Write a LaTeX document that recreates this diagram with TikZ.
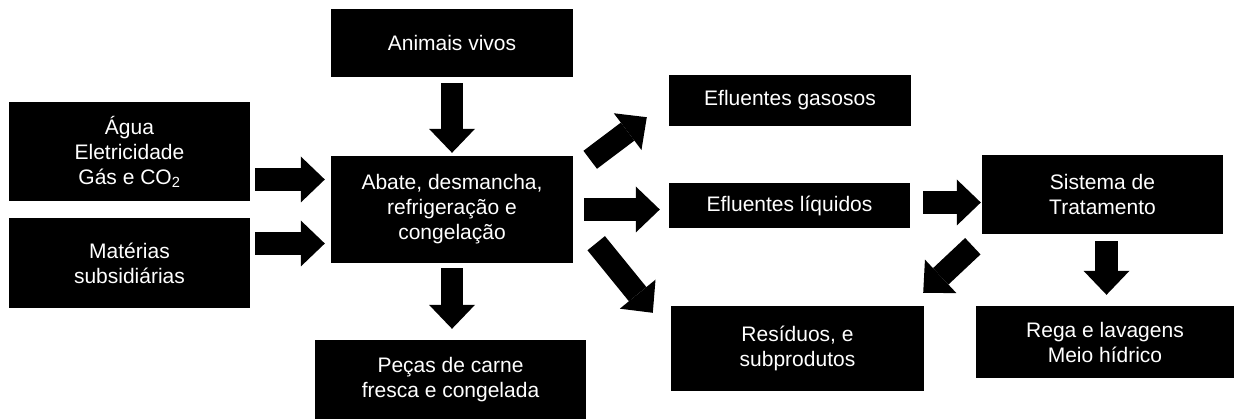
\documentclass[tikz,border=0pt]{standalone}
\usepackage{fontspec}
\setmainfont{Liberation Sans}
\usetikzlibrary{arrows.meta, positioning, calc}
\definecolor{boxBlack}{HTML}{000000}
\definecolor{textWhite}{HTML}{FFFFFF}

\begin{document}
\begin{tikzpicture}[x=1pt, y=-1pt,
    bx/.style 2 args={rectangle, fill=boxBlack, inner sep=0pt,
              minimum width=#1, minimum height=#2,
              font=\fontsize{21}{25}\selectfont\color{textWhite}, align=center},
    ar/.style={draw=boxBlack, line width=22.5pt,
              -{Triangle[length=24pt, width=46pt, line width=0pt]}},
  ]
    \useasboundingbox (0,0) rectangle (1238,419);
    \node[bx={242pt}{68pt}] (anim) at (452, 43) {Animais vivos};
    \node[bx={241pt}{99pt}] (agua) at (129.5, 151.5)
      {Água\\Eletricidade\\Gás e CO\textsubscript{2}};
    \node[bx={241pt}{90pt}] (mat) at (129.5, 263) {Matérias\\subsidiárias};
    \node[bx={242pt}{107pt}] (abate) at (452, 209.5)
      {Abate, desmancha,\\refrigeração e\\congelação};
    \node[bx={271pt}{79pt}] (pecas) at (450.5, 379.5)
      {Peças de carne\\fresca e congelada};
    \node[bx={242pt}{51pt}] (gas) at (790, 100.5) {Efluentes gasosos};
    \node[bx={241pt}{45pt}] (liq) at (789.5, 205.5) {Efluentes líquidos};
    \node[bx={241pt}{79pt}] (sist) at (1102.5, 194.5) {Sistema de\\Tratamento};
    \node[bx={253pt}{85pt}] (res) at (797.5, 348.5) {Resíduos, e\\subprodutos};
    \node[bx={258pt}{72pt}] (rega) at (1105, 342) {Rega e lavagens\\Meio hídrico};

    \draw[ar, shorten <=6pt, shorten >=3pt] (anim.south) -- (abate.north);
    \draw[ar, shorten <=5pt, shorten >=6pt]
      ([yshift=-28pt]agua.east) -- ([yshift=-28pt]agua.east -| abate.west);
    \draw[ar, shorten <=5pt, shorten >=6pt]
      ([yshift=19.5pt]mat.east) -- ([yshift=19.5pt]mat.east -| abate.west);
    \draw[ar, shorten <=5pt, shorten >=11pt] (abate.south) -- (abate.south |- pecas.north);
    \draw[ar, shorten <=11pt, shorten >=9pt] (abate.east) -- (abate.east -| liq.west);
    \draw[ar] ([xshift=17pt, yshift=-4pt]abate.north east)
      -- ([xshift=-22pt, yshift=9pt]gas.south west);
    \draw[ar] ([xshift=23pt, yshift=20pt]abate.south east)
      -- ([xshift=-18pt, yshift=-7pt]res.north west);
    \draw[ar, shorten <=13pt, shorten >=1pt]
      ([yshift=3pt]liq.east) -- ([yshift=3pt]liq.east -| sist.west);
    \draw[ar] ([xshift=-9pt, yshift=-12pt]sist.south west)
      -- ([xshift=-1pt, yshift=13pt]res.north east);
    \draw[ar, shorten <=7pt, shorten >=11pt]
      ([xshift=4pt]sist.south) -- ([xshift=4pt]sist.south |- rega.north);
  \end{tikzpicture}
\end{document}
